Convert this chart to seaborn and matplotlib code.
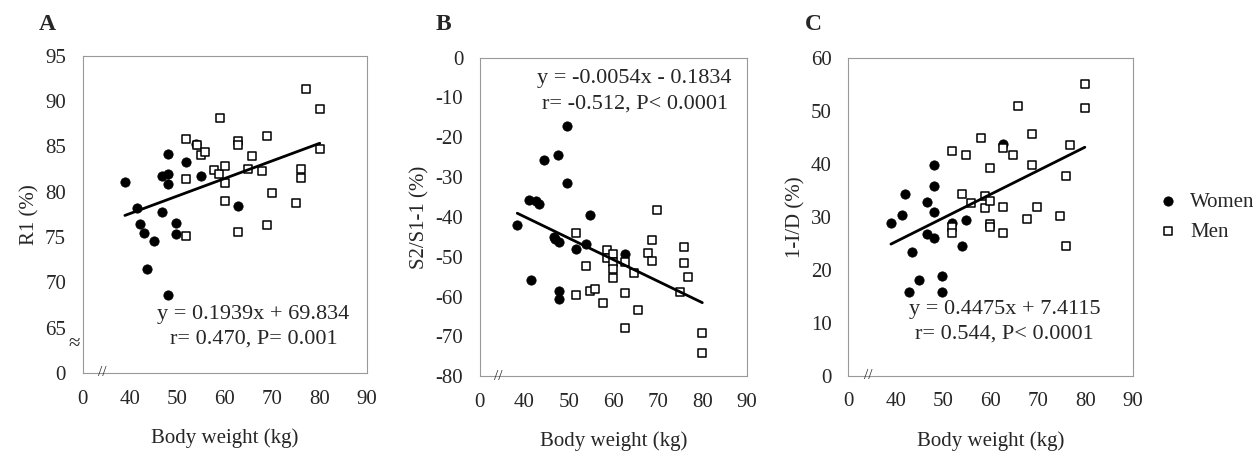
import numpy as np
import pandas as pd
import matplotlib
matplotlib.use("Agg")
import matplotlib.pyplot as plt
import seaborn as sns

sns.set_style("white")
plt.rcParams["font.family"] = ["Liberation Serif", "DejaVu Serif"]

# Panel A: R1 (%)
a_women_x = [38.9, 41.4, 42.0, 42.9, 45.0, 43.5, 46.8, 48.0, 48.0, 48.0, 46.8, 48.0, 49.7, 49.7, 51.8, 53.9, 55.0, 62.8]
a_women_y = [81.05, 78.25, 76.4, 75.45, 74.6, 71.5, 81.7, 81.9, 80.9, 84.2, 77.8, 68.6, 76.5, 75.3, 83.3, 85.25, 81.7, 78.4]
a_men_x = [51.8, 51.8, 51.8, 54.1, 54.9, 55.8, 57.8, 58.9, 58.7, 60.1, 60.1, 60.1, 62.8, 62.8, 62.8, 64.9, 65.8,
           67.9, 68.9, 68.9, 70.0, 74.9, 76.1, 76.1, 77.0, 80.0, 80.0]
a_men_y = [85.8, 81.4, 75.1, 85.1, 84.0, 84.4, 82.4, 88.1, 82.0, 82.8, 81.0, 79.0, 85.6, 85.1, 75.6, 82.5, 83.9,
           82.3, 86.2, 76.3, 79.8, 78.7, 82.5, 81.5, 91.3, 89.1, 84.7]

# Panel B: S2/S1-1 (%)
b_women_x = [38.4, 41.0, 42.7, 43.2, 44.4, 47.6, 49.6, 49.5, 41.6, 46.7, 46.9, 47.7, 47.7, 47.7, 54.8, 51.5, 53.8, 62.7]
b_women_y = [-42.1, -35.7, -36.1, -36.8, -25.6, -24.5, -17.1, -31.4, -55.9, -45.1, -45.6, -46.4, -58.5, -60.5,
             -39.6, -48.0, -46.8, -49.3]
b_men_x = [51.5, 51.5, 53.8, 54.7, 55.8, 57.7, 58.5, 58.5, 59.9, 59.9, 59.9, 59.9, 62.7, 62.7, 62.7, 64.6, 65.6,
           67.8, 68.7, 68.7, 69.8, 74.9, 75.8, 75.8, 76.7, 80.0, 80.0]
b_men_y = [-44.1, -59.5, -52.3, -58.6, -58.0, -61.6, -48.3, -50.2, -49.2, -51.3, -53.0, -55.4, -51.3, -59.0, -67.9,
           -54.0, -63.4, -49.0, -45.8, -51.2, -38.2, -58.8, -47.6, -51.5, -55.1, -69.2, -74.1]

# Panel C: 1-I/D (%)
c_women_x = [39.0, 41.3, 42.0, 43.4, 42.8, 44.9, 46.7, 46.7, 48.0, 48.0, 48.0, 48.0, 49.8, 49.8, 51.9, 53.9, 54.9, 62.6]
c_women_y = [28.9, 30.4, 34.3, 23.4, 15.9, 18.1, 32.9, 26.8, 39.8, 35.9, 31.0, 26.1, 18.9, 15.9, 28.9, 24.5, 29.4, 43.7]
c_men_x = [51.9, 51.9, 51.9, 54.8, 54.0, 55.8, 57.9, 58.8, 58.8, 60.0, 60.0, 60.0, 60.0, 62.6, 62.6, 62.6, 64.7,
           65.7, 67.8, 68.7, 68.7, 69.9, 74.6, 76.0, 76.0, 76.8, 79.9, 79.9]
c_men_y = [42.5, 28.0, 26.9, 41.7, 34.3, 32.6, 45.0, 34.0, 31.6, 39.3, 33.1, 28.6, 28.0, 43.1, 31.8, 26.9, 41.7,
           50.9, 29.6, 45.7, 39.8, 31.8, 30.2, 37.7, 24.5, 43.6, 55.2, 50.6]

panels = [
    dict(letter="A", ylabel="R1 (%)", wx=a_women_x, wy=a_women_y, mx=a_men_x, my=a_men_y,
         slope=0.1939, icpt=69.834, ylim=(60, 95), yticks=list(range(60, 100, 5)),
         ylabels=["0"] + [str(v) for v in range(65, 100, 5)], ybreak=True,
         eq="y = 0.1939x + 69.834\nr= 0.470, P= 0.001", eqpos=(0.6, 0.145),
         pos=[0.066, 0.205, 0.227, 0.676]),
    dict(letter="B", ylabel="S2/S1-1 (%)", wx=b_women_x, wy=b_women_y, mx=b_men_x, my=b_men_y,
         slope=-0.54, icpt=-18.34, ylim=(-80, 0), yticks=list(range(-80, 10, 10)),
         ylabels=[str(v) for v in range(-80, 10, 10)], ybreak=False,
         eq="y = -0.0054x - 0.1834\nr= -0.512, P< 0.0001", eqpos=(0.58, 0.895),
         pos=[0.383, 0.198, 0.213, 0.679]),
    dict(letter="C", ylabel="1-I/D (%)", wx=c_women_x, wy=c_women_y, mx=c_men_x, my=c_men_y,
         slope=0.4475, icpt=7.4115, ylim=(0, 60), yticks=list(range(0, 70, 10)),
         ylabels=[str(v) for v in range(0, 70, 10)], ybreak=False,
         eq="y = 0.4475x + 7.4115\nr= 0.544, P< 0.0001", eqpos=(0.55, 0.17),
         pos=[0.677, 0.199, 0.227, 0.677]),
]

fig = plt.figure(figsize=(12.53, 4.69), dpi=100)
for p in panels:
    ax = fig.add_axes(p["pos"])
    women = pd.DataFrame({"x": p["wx"], "y": p["wy"]})
    men = pd.DataFrame({"x": p["mx"], "y": p["my"]})
    sns.scatterplot(data=women, x="x", y="y", ax=ax, color="black", marker="o", s=45,
                    edgecolor="black", label="Women")
    sns.scatterplot(data=men, x="x", y="y", ax=ax, facecolor="white", marker="s", s=38,
                    edgecolor="black", linewidth=1.1, label="Men")
    lx = np.array([min(p["wx"] + p["mx"]), max(p["wx"] + p["mx"])])
    sns.lineplot(x=lx, y=p["slope"] * lx + p["icpt"], ax=ax, color="black", linewidth=2, legend=False)
    ax.set_xlim(30, 90)
    ax.set_xticks(range(30, 100, 10))
    ax.set_xticklabels(["0"] + [str(v) for v in range(40, 100, 10)], fontsize=15)
    ax.set_ylim(*p["ylim"])
    ax.set_yticks(p["yticks"])
    ax.set_yticklabels(p["ylabels"], fontsize=15)
    ax.set_xlabel("Body weight (kg)", fontsize=15, labelpad=14)
    ax.set_ylabel(p["ylabel"], fontsize=15, labelpad=4)
    ax.tick_params(axis="both", length=4, color="#aaaaaa", direction="out", pad=8)
    for s in ax.spines.values():
        s.set_color("#999999")
    ax.text(*p["eqpos"], p["eq"], transform=ax.transAxes, ha="center", va="center",
            fontsize=16, linespacing=1.45)
    ax.text(0.07, 0.0, "//", transform=ax.transAxes, ha="center", va="center", fontsize=11)
    if p["ybreak"]:
        ax.text(-0.03, 0.09, "≈", transform=ax.transAxes, ha="center", va="center", fontsize=15)
    fig.text(p["pos"][0] - 0.035, 0.935, p["letter"], fontsize=17, fontweight="bold")
    if p["letter"] == "C":
        ax.legend(loc="center left", bbox_to_anchor=(1.02, 0.5), frameon=False, fontsize=15,
                  handletextpad=0.1, borderaxespad=0)
    else:
        ax.get_legend().remove()

fig.savefig("out.png", dpi=100)
